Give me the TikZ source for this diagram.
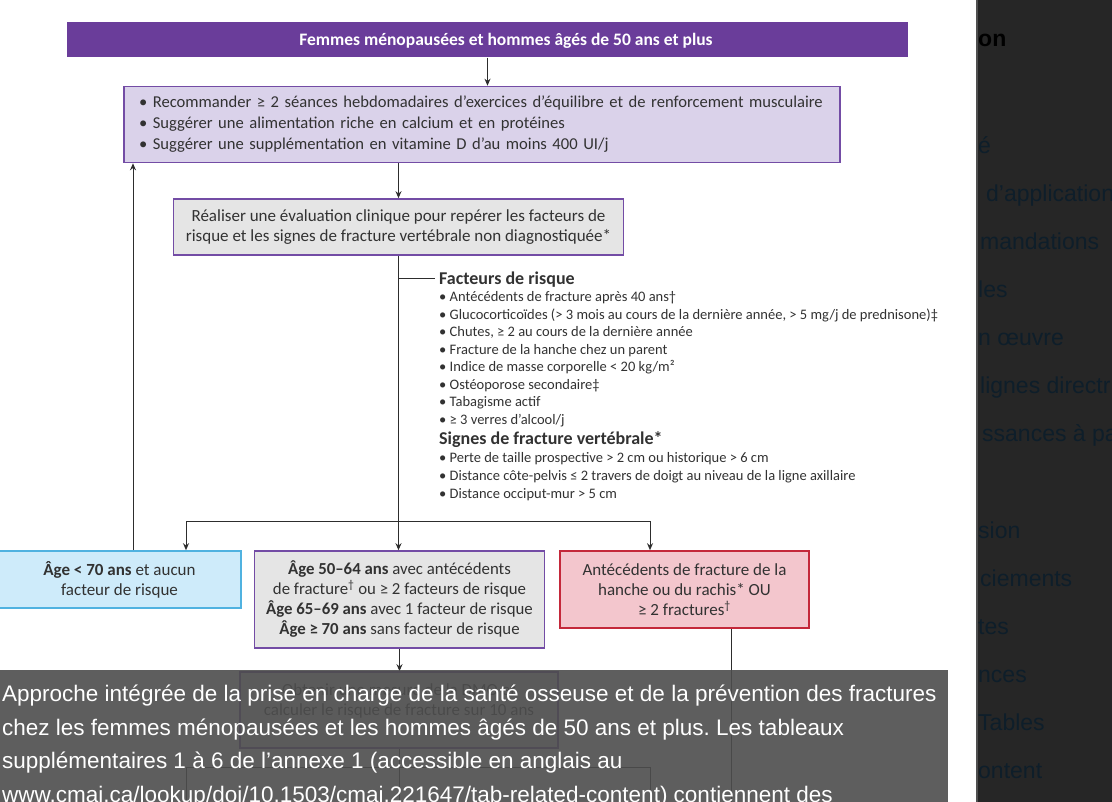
\documentclass[tikz,border=0pt]{standalone}
\usepackage{fontspec}
\setmainfont{Carlito}
\newfontfamily\capfont{Liberation Sans}
\usetikzlibrary{arrows.meta}
\definecolor{hdrpurple}{RGB}{106,61,154}
\definecolor{boxpurple}{RGB}{115,76,165}
\definecolor{lavender}{RGB}{218,210,234}
\definecolor{mygray}{RGB}{229,229,229}
\definecolor{skyfill}{RGB}{206,235,250}
\definecolor{skyline}{RGB}{80,178,224}
\definecolor{pinkfill}{RGB}{243,198,205}
\definecolor{redline}{RGB}{196,40,58}
\definecolor{linec}{RGB}{45,45,45}
\definecolor{txt}{RGB}{50,50,50}
\definecolor{ovl}{RGB}{77,77,77}
\definecolor{sbg}{RGB}{38,38,38}
\definecolor{sbtxt}{RGB}{14,30,42}
\definecolor{sbedge}{RGB}{80,80,80}
\begin{document}
\frenchspacing
\begin{tikzpicture}[x=1pt,y=-1pt,
  conn/.style={draw=linec,line width=1pt},
  arr/.style={conn,-{Stealth[length=7pt,width=6pt]}},
  flowbox/.style={line width=1.6pt,inner sep=0pt,text=txt,align=center,font=\fontsize{17}{20}\selectfont},
  hdrbox/.style={fill=hdrpurple,minimum width=841pt,minimum height=35pt,inner sep=0pt},
  hdrtext/.style={text=white,inner sep=0pt,font=\fontsize{17.5}{20}\selectfont\bfseries},
  riskhead/.style={anchor=base west,inner sep=0pt,text=txt,font=\fontsize{18}{20}\selectfont\bfseries},
  riskitem/.style={anchor=base west,inner sep=0pt,text=txt,font=\fontsize{14.5}{17}\selectfont},
  captext/.style={anchor=base west,inner sep=0pt,text=white,font=\capfont\fontsize{22.5}{26}\selectfont},
  sidetext/.style={anchor=base west,inner sep=0pt,text=sbtxt,font=\capfont\fontsize{23}{26}\selectfont}
]
\useasboundingbox (0,0) rectangle (1112,802);
\fill[white] (0,0) rectangle (1112,802);

% header
\node[hdrbox] (hdr) at (487.5,40) {};
\node[hdrtext] (hdrt) at (506,40.5) {Femmes ménopausées et hommes âgés de 50 ans et plus};

% recommendations
\node[flowbox,draw=boxpurple,fill=lavender,minimum width=716pt,minimum height=76pt,
      text width=686pt,align=left,font=\fontsize{16.6}{21}\selectfont] (rec) at (482,124.5)
 {• Recommander ≥ 2 séances hebdomadaires d’exercices d’équilibre et de renforcement musculaire\\
  • Suggérer une alimentation riche en calcium et en protéines\\
  • Suggérer une supplémentation en vitamine D d’au moins 400 UI/j};

% clinical evaluation
\node[flowbox,draw=boxpurple,fill=mygray,minimum width=450pt,minimum height=56pt] (eval) at (398.5,227)
 {Réaliser une évaluation clinique pour repérer les facteurs de\\risque et les signes de fracture vertébrale non diagnostiquée*};

% risk factors
\node[riskhead] (fhead) at (439,285) {Facteurs de risque};
\foreach \itemtext [count=\i] in {
  {• Antécédents de fracture après 40 ans†},
  {• Glucocorticoïdes (> 3 mois au cours de la dernière année, > 5 mg/j de prednisone)‡},
  {• Chutes, ≥ 2 au cours de la dernière année},
  {• Fracture de la hanche chez un parent},
  {• Indice de masse corporelle < 20 kg/m²},
  {• Ostéoporose secondaire‡},
  {• Tabagisme actif},
  {• ≥ 3 verres d’alcool/j}}
  \node[riskitem] (f\i) at (439,{284.5+17.5*\i}) {\itemtext};
\node[riskhead] (shead) at (439,445) {Signes de fracture vertébrale*};
\foreach \itemtext [count=\i] in {
  {• Perte de taille prospective > 2 cm ou historique > 6 cm},
  {• Distance côte-pelvis ≤ 2 travers de doigt au niveau de la ligne axillaire},
  {• Distance occiput-mur > 5 cm}}
  \node[riskitem] (s\i) at (439,{445.5+17.5*\i}) {\itemtext};

% three categories
\node[flowbox,draw=skyline,fill=skyfill,minimum width=243pt,minimum height=57pt] (low) at (119.5,579.5)
 {\textbf{Âge < 70 ans} et aucun\\facteur de risque};
\node[flowbox,draw=boxpurple,fill=mygray,minimum width=290pt,minimum height=97pt,
      font=\fontsize{16.8}{20}\selectfont] (mid) at (399.5,599.5)
 {\textbf{Âge 50–64 ans} avec antécédents\\de fracture\textsuperscript{†} ou ≥ 2 facteurs de risque\\
  \textbf{Âge 65–69 ans} avec 1 facteur de risque\\\textbf{Âge ≥ 70 ans} sans facteur de risque};
\node[flowbox,draw=redline,fill=pinkfill,minimum width=249pt,minimum height=77pt] (high) at (684.5,589.5)
 {Antécédents de fracture de la\\hanche ou du rachis* OU\\≥ 2 fractures\textsuperscript{†}};

% BMD box (under caption)
\node[flowbox,draw=boxpurple,fill=mygray,minimum width=318pt,minimum height=76pt] (dmo) at (399,710)
 {Obtenir une mesure de la DMO et\\calculer le risque de fracture sur 10 ans\\~};

% connectors
\draw[arr] (hdr.south) -- (hdr.south |- rec.north);
\draw[arr] (eval.north |- rec.south) -- (eval.north);
\draw[arr] (eval.south) -- (eval.south |- mid.north);
\coordinate (tick) at (399,279);
\coordinate (tickend) at (435,279);
\draw[conn] (tick) -- (tickend);
\coordinate (splitL) at (186,521);
\coordinate (splitR) at (650,521);
\draw[conn] (splitL) -- (splitR);
\draw[arr] (splitL) -- (splitL |- low.north);
\draw[arr] (splitR) -- (splitR |- high.north);
\coordinate (backx) at (133,0);
\draw[arr] (low.north -| backx) -- (rec.south -| backx);
\draw[arr] (mid.south) -- (mid.south |- dmo.north);
\coordinate (hbot) at (731,812);
\draw[conn] (high.south -| hbot) -- (hbot);
\coordinate (s2L) at (186,767);
\coordinate (s2R) at (650,767);
\coordinate (s2Lb) at (186,812);
\coordinate (s2Mb) at (399,812);
\coordinate (s2Rb) at (650,812);
\draw[conn] (dmo.south) -- (dmo.south |- s2L);
\draw[conn] (s2L) -- (s2R);
\draw[conn] (s2L) -- (s2Lb);
\draw[conn] (dmo.south |- s2L) -- (s2Mb);
\draw[conn] (s2R) -- (s2Rb);

% caption overlay
\fill[ovl,opacity=0.9] (0,670) rectangle (948,802);
\node[captext] (cap1) at (2,701) {Approche intégrée de la prise en charge de la santé osseuse et de la prévention des fractures};
\node[captext] (cap2) at (2,735) {chez les femmes ménopausées et les hommes âgés de 50 ans et plus. Les tableaux};
\node[captext] (cap3) at (2,768.5) {supplémentaires 1 à 6 de l’annexe 1 (accessible en anglais au};
\node[captext] (cap4) at (2,802) {www.cmaj.ca/lookup/doi/10.1503/cmaj.221647/tab-related-content) contiennent des};

% sidebar
\fill[sbg] (976,0) rectangle (1112,802);
\draw[sbedge,line width=1.5pt] (976.75,0) -- (976.75,802);
\begin{scope}
\clip (977.5,0) rectangle (1112,802);
\node[sidetext,text=black,font=\capfont\fontsize{23}{26}\selectfont\bfseries] (sb0) at (978,47) {on};
\node[sidetext] (sb1) at (978,154) {é};
\node[sidetext] (sb2) at (986,202) {d’application};
\node[sidetext] (sb3) at (980,250) {mandations};
\node[sidetext] (sb4) at (978,298) {les};
\node[sidetext] (sb5) at (978,346) {n œuvre};
\node[sidetext] (sb6) at (980,394) {lignes directr};
\node[sidetext] (sb7) at (982,442) {ssances à pa};
\node[sidetext] (sb8) at (978,538) {sion};
\node[sidetext] (sb9) at (980,586) {ciements};
\node[sidetext] (sb10) at (978,634) {tes};
\node[sidetext] (sb11) at (978,682) {nces};
\node[sidetext] (sb12) at (978,730) {Tables};
\node[sidetext] (sb13) at (978,778) {ontent};
\end{scope}
\end{tikzpicture}
\end{document}
